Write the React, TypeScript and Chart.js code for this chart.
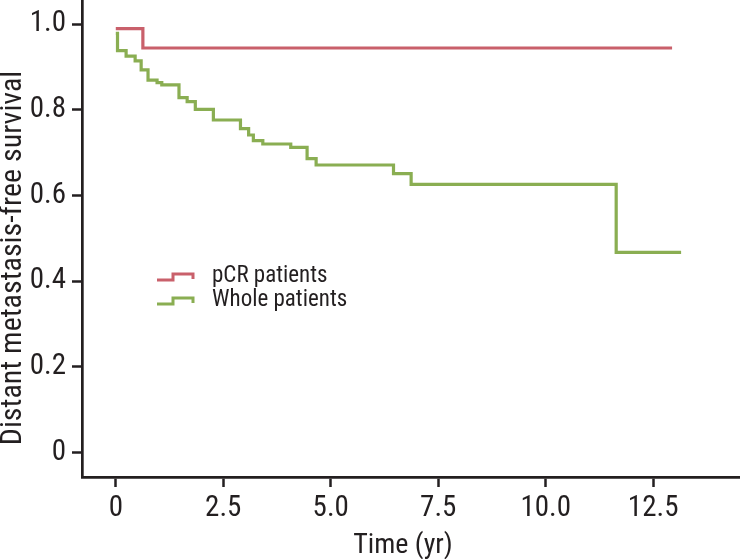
import React, { useEffect, useRef } from 'react';
import { Chart, registerables } from 'chart.js';

Chart.register(...registerables);

// ---- Data ----
const pcrTimes = [0, 0.63, 12.94];
const pcrSurvival = [0.989, 0.944, 0.944];

const wholeTimes = [0, 0.04, 0.24, 0.45, 0.59, 0.75, 0.96, 1.07, 1.47, 1.66, 1.85, 2.27, 2.9, 3.09, 3.2, 3.42, 4.07, 4.45, 4.66, 6.46, 6.87, 11.64, 13.15];
const wholeSurvival = [0.978, 0.938, 0.925, 0.914, 0.893, 0.869, 0.863, 0.858, 0.828, 0.819, 0.801, 0.776, 0.756, 0.741, 0.728, 0.72, 0.712, 0.686, 0.671, 0.651, 0.626, 0.467, 0.467];

const xTickValues = [0, 2.5, 5, 7.5, 10, 12.5];
const xTickLabels = ['0', '2.5', '5.0', '7.5', '10.0', '12.5'];
const yTickValues = [0, 0.2, 0.4, 0.6, 0.8, 1.0];
const yTickLabels = ['0', '0.2', '0.4', '0.6', '0.8', '1.0'];

const seriesLabels = ['pCR patients', 'Whole patients'];
const xTitle = 'Time (yr)';
const yTitle = 'Distant metastasis-free survival';

const RED = '#c9606b';
const GREEN = '#8aae52';
const INK = '#231f20';
const FONT = "'Liberation Sans Narrow', 'Roboto Condensed', 'DejaVu Sans Condensed', 'Arial Narrow', sans-serif";

const decorPlugin = {
  id: 'decor',
  afterDraw(chart: any) {
    const ctx = chart.ctx;
    ctx.save();
    ctx.fillStyle = INK;
    // x title
    ctx.font = `28px ${FONT}`;
    ctx.textAlign = 'center';
    ctx.textBaseline = 'alphabetic';
    ctx.fillText(xTitle, 403, 553);
    // y title
    ctx.save();
    ctx.translate(21, 258);
    ctx.rotate(-Math.PI / 2);
    ctx.font = `30px ${FONT}`;
    ctx.fillText(yTitle, 0, 0);
    ctx.restore();

    // legend
    const colors = [RED, GREEN];
    const centers = [276, 300];
    ctx.lineWidth = 3;
    ctx.lineJoin = 'miter';
    ctx.font = `23px ${FONT}`;
    ctx.textAlign = 'left';
    ctx.textBaseline = 'middle';
    seriesLabels.forEach((label, i) => {
      const cy = centers[i];
      ctx.strokeStyle = colors[i];
      ctx.beginPath();
      ctx.moveTo(157, cy + 4);
      ctx.lineTo(173, cy + 4);
      ctx.lineTo(173, cy - 2);
      ctx.lineTo(193, cy - 2);
      ctx.lineTo(193, cy + 3);
      ctx.stroke();
      ctx.fillStyle = INK;
      ctx.fillText(label, 212, cy);
    });
    ctx.restore();
  },
};

export default function App() {
  const canvasRef = useRef<HTMLCanvasElement | null>(null);

  useEffect(() => {
    if (!canvasRef.current) return;
    const makeData = (times: number[], surv: number[]) => times.map((t, i) => ({ x: t, y: surv[i] }));
    const chart = new Chart(canvasRef.current, {
      type: 'line',
      data: {
        datasets: [
          {
            label: seriesLabels[0],
            data: makeData(pcrTimes, pcrSurvival),
            borderColor: RED,
            borderWidth: 3.2,
            stepped: 'before',
            pointRadius: 0,
            fill: false,
          },
          {
            label: seriesLabels[1],
            data: makeData(wholeTimes, wholeSurvival),
            borderColor: GREEN,
            borderWidth: 3.2,
            stepped: 'before',
            pointRadius: 0,
            fill: false,
          },
        ],
      },
      options: {
        animation: false,
        responsive: true,
        maintainAspectRatio: false,
        layout: { padding: 0 },
        plugins: {
          legend: { display: false },
          tooltip: { enabled: false },
        },
        scales: {
          x: {
            type: 'linear',
            min: -0.786,
            max: 14.52,
            afterBuildTicks: (s: any) => {
              s.ticks = xTickValues.map((v) => ({ value: v }));
            },
            afterFit: (s: any) => {
              s.height = 82;
              s.paddingLeft = 0;
              s.paddingRight = 0;
            },
            ticks: {
              autoSkip: false,
              maxRotation: 0,
              padding: 4,
              color: INK,
              font: { family: FONT, size: 29 },
              callback: (_v: any, i: number) => xTickLabels[i],
            },
            grid: {
              drawOnChartArea: false,
              drawTicks: true,
              tickLength: 10,
              tickWidth: 2.5,
              tickColor: INK,
            },
            border: { display: true, color: INK, width: 2.7 },
            title: { display: false },
          },
          y: {
            type: 'linear',
            min: -0.057,
            max: 1.056,
            afterBuildTicks: (s: any) => {
              s.ticks = yTickValues.map((v) => ({ value: v }));
            },
            afterFit: (s: any) => {
              s.width = 82;
              s.paddingTop = 0;
              s.paddingBottom = 0;
            },
            ticks: {
              autoSkip: false,
              padding: 6,
              color: INK,
              font: { family: FONT, size: 29 },
              callback: (_v: any, i: number) => yTickLabels[i],
            },
            grid: {
              drawOnChartArea: false,
              drawTicks: true,
              tickLength: 10,
              tickWidth: 2.5,
              tickColor: INK,
            },
            border: { display: true, color: INK, width: 2.7 },
            title: { display: false },
          },
        },
      },
      plugins: [decorPlugin],
    });
    return () => chart.destroy();
  }, []);

  return (
    <div style={{ position: 'absolute', left: 0, top: 0, width: 740, height: 559, background: '#fff' }}>
      <canvas ref={canvasRef} style={{ display: 'block' }} />
    </div>
  );
}
